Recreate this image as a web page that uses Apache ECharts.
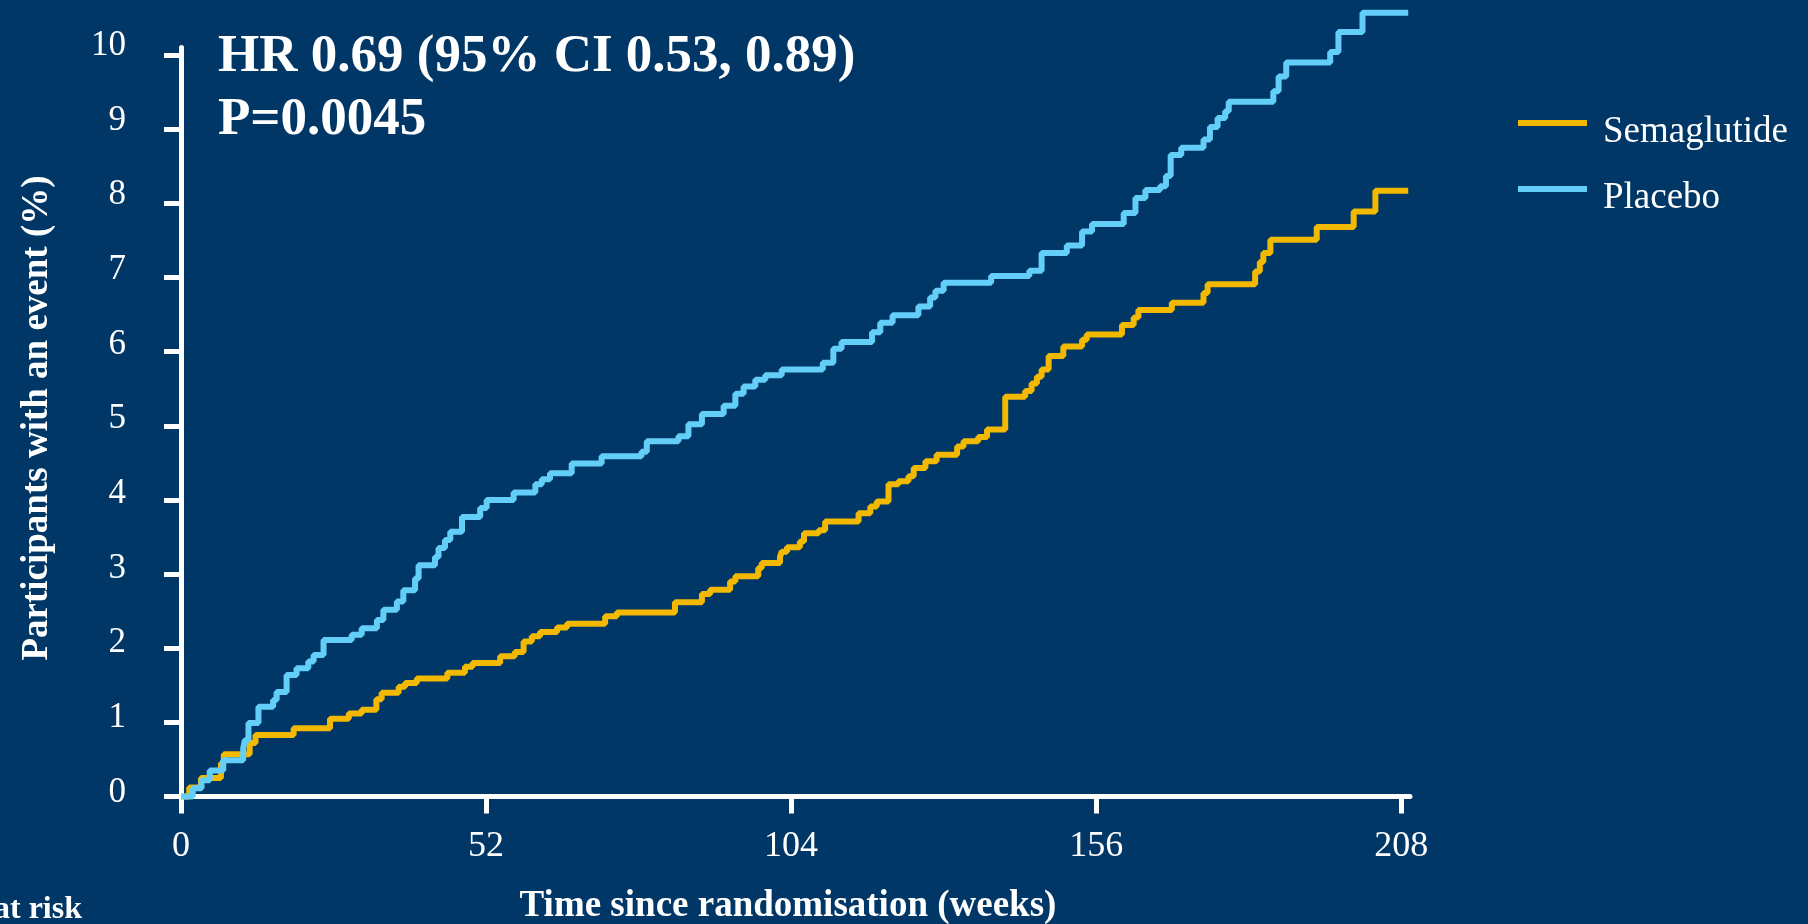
<!DOCTYPE html>
<html>
<head>
<meta charset="utf-8">
<script src="https://cdn.jsdelivr.net/npm/echarts@6/dist/echarts.min.js"></script>
<style>
html,body{margin:0;padding:0;background:#013766;}
#c{width:1808px;height:924px;}
</style>
</head>
<body>
<div id="c"></div>
<script>
const seriesNames = ['Semaglutide', 'Placebo'];
const xTicks = [0, 52, 104, 156, 208];
const yTicks = [0, 1, 2, 3, 4, 5, 6, 7, 8, 9, 10];

const semaWeeks = [0, 1.4, 3.4, 6.8, 7.3, 11.7, 12.7, 19.2, 25.4, 28.6, 30.8, 33.3, 34.2, 37.1, 38.2, 40.2, 45.4, 48.4, 49.7,
  54.4, 56.9, 58.4, 59.8, 61.2, 64.1, 65.8, 72.3, 74.3, 84.2, 88.8, 90.2, 93.6, 94.5, 98.4, 99.0, 102.1, 102.4, 103.3, 105.5,
  106.2, 108.7, 109.8, 115.5, 117.5, 118.6, 120.6, 122.3, 124.0, 124.9, 126.9, 128.8, 132.3, 133.4, 135.9, 137.4, 140.5,
  143.9, 145.0, 145.9, 146.7, 147.9, 150.4, 153.6, 154.4, 160.4, 162.4, 163.2, 168.9, 174.3, 175.0, 183.1, 183.9, 184.5,
  185.7, 193.6, 199.9, 203.6, 209.2];
const semaValues = [0, 0.12, 0.25, 0.45, 0.57, 0.72, 0.83, 0.92, 1.05, 1.12, 1.17, 1.31, 1.40, 1.48, 1.53, 1.59, 1.67, 1.75, 1.80,
  1.89, 1.95, 2.09, 2.16, 2.22, 2.28, 2.33, 2.43, 2.48, 2.62, 2.73, 2.79, 2.90, 2.97, 3.08, 3.15, 3.23, 3.30, 3.36, 3.44,
  3.55, 3.59, 3.71, 3.82, 3.91, 3.98, 4.21, 4.25, 4.32, 4.43, 4.52, 4.61, 4.72, 4.79, 4.85, 4.95, 5.39,
  5.47, 5.57, 5.66, 5.76, 5.94, 6.07, 6.16, 6.23, 6.36, 6.46, 6.56, 6.66, 6.79, 6.91, 7.08, 7.21, 7.33,
  7.51, 7.68, 7.89, 8.17, 8.17];

const placeboWeeks = [0, 2.0, 3.5, 4.9, 7.2, 10.6, 10.9, 11.5, 13.2, 15.7, 16.3, 18.0, 19.7, 21.7, 22.6, 24.3, 29.1, 30.8,
  33.4, 34.5, 36.8, 37.9, 39.9, 40.5, 43.3, 43.9, 45.0, 45.9, 47.9, 51.0, 52.1, 56.7, 60.4, 61.5, 62.9, 66.6, 71.7, 78.5,
  79.4, 84.8, 86.5, 88.8, 92.5, 94.5, 95.9, 97.9, 99.6, 102.4, 109.4, 111.2, 112.6, 117.8, 119.2, 121.3, 125.7, 127.7,
  128.6, 130.0, 138.1, 144.6, 146.7, 151.0, 153.6, 155.3, 160.7, 162.7, 164.4, 166.9, 167.9, 168.7, 170.5, 174.3, 175.4,
  176.7, 178.0, 178.6, 186.2, 187.1, 188.4, 195.9, 197.3, 201.4, 209.2];
const placeboValues = [0, 0.11, 0.22, 0.35, 0.49, 0.65, 0.76, 0.99, 1.21, 1.30, 1.41, 1.64, 1.73, 1.82, 1.91, 2.11, 2.18, 2.27,
  2.38, 2.52, 2.63, 2.78, 2.94, 3.12, 3.23, 3.35, 3.46, 3.57, 3.77, 3.89, 4.00, 4.10, 4.21, 4.28, 4.36, 4.49, 4.59, 4.65,
  4.79, 4.86, 5.02, 5.16, 5.27, 5.43, 5.53, 5.62, 5.68, 5.76, 5.85, 6.04, 6.13, 6.26, 6.39, 6.49, 6.61, 6.73,
  6.82, 6.93, 7.02, 7.09, 7.33, 7.43, 7.62, 7.72, 7.87, 8.07, 8.18, 8.23, 8.37, 8.65, 8.75, 8.86, 9.03,
  9.15, 9.24, 9.37, 9.51, 9.71, 9.90, 10.04, 10.31, 10.57, 10.57];

const titleLine1 = 'HR 0.69 (95% CI 0.53, 0.89)';
const titleLine2 = 'P=0.0045';
const yAxisTitle = 'Participants with an event (%)';
const xAxisTitle = 'Time since randomisation (weeks)';
const riskLabel = 'at risk';

const SERIF = '"Liberation Serif", "Times New Roman", serif';
const BG = '#013766';
const GOLD = '#F2B900';
const SKY = '#63CEF7';

function pairs(xs, ys) { return xs.map((x, i) => [x, ys[i]]); }

const chart = echarts.init(document.getElementById('c'), null, { renderer: 'canvas' });
chart.setOption({
  backgroundColor: BG,
  animation: false,
  grid: [
    { left: 181, right: 398, top: 47.6, bottom: 127.5, containLabel: false },
    // label grid: the tick labels in the original sit slightly above their ticks
    { left: 181, right: 398, top: 46, bottom: 131.5, containLabel: false }
  ],
  legend: {
    orient: 'vertical',
    left: 1518,
    top: 112,
    padding: 0,
    itemGap: 26,
    itemWidth: 69,
    itemHeight: 24,
    icon: 'path://M0,0L69,0L69,6L0,6Z M0,23.95L0.05,23.95L0.05,24L0,24Z',
    data: seriesNames,
    textStyle: {
      color: '#ffffff',
      fontFamily: SERIF,
      fontSize: 37,
      lineHeight: 40,
      padding: [0, 0, 0, 11]
    }
  },
  xAxis: [
    {
      type: 'value', gridIndex: 0,
      min: 0,
      max: 209.5,
      splitLine: { show: false },
      axisLine: { show: true, onZero: false, lineStyle: { color: '#ffffff', width: 5 } },
      axisTick: { show: true, length: 17, customValues: xTicks, lineStyle: { color: '#ffffff', width: 5 } },
      axisLabel: { customValues: xTicks, color: '#ffffff', fontFamily: SERIF, fontSize: 36, margin: 32 }
    },
    {
      type: 'value', gridIndex: 1, min: 0, max: 209.5, show: false
    }
  ],
  yAxis: [
    {
      type: 'value', gridIndex: 0,
      min: 0,
      max: 10.1,
      splitLine: { show: false },
      axisLine: { show: true, onZero: false, lineStyle: { color: '#ffffff', width: 5 } },
      axisTick: { show: true, length: 17, customValues: yTicks, lineStyle: { color: '#ffffff', width: 5 } },
      axisLabel: { show: false }
    },
    {
      type: 'value', gridIndex: 1,
      min: 0,
      max: 10,
      splitLine: { show: false },
      axisLine: { show: false },
      axisTick: { show: false },
      axisLabel: { customValues: yTicks, color: '#ffffff', fontFamily: SERIF, fontSize: 35, margin: 55, verticalAlign: 'middle' }
    }
  ],
  series: [
    {
      name: seriesNames[0], type: 'line', step: 'end', showSymbol: false, clip: false,
      xAxisIndex: 0, yAxisIndex: 0,
      color: GOLD, lineStyle: { color: GOLD, width: 6 },
      data: pairs(semaWeeks, semaValues)
    },
    {
      name: seriesNames[1], type: 'line', step: 'end', showSymbol: false, clip: false,
      xAxisIndex: 0, yAxisIndex: 0,
      color: SKY, lineStyle: { color: SKY, width: 6 },
      data: pairs(placeboWeeks, placeboValues)
    }
  ],
  graphic: [
    { type: 'text', x: 218, y: 57, style: { text: titleLine1, font: 'bold 53px ' + SERIF, fill: '#ffffff', align: 'left', verticalAlign: 'middle' } },
    { type: 'text', x: 218, y: 120, style: { text: titleLine2, font: 'bold 53px ' + SERIF, fill: '#ffffff', align: 'left', verticalAlign: 'middle' } },
    { type: 'text', x: 37, y: 418, rotation: Math.PI / 2, style: { text: yAxisTitle, font: 'bold 37px ' + SERIF, fill: '#ffffff', align: 'center', verticalAlign: 'middle' } },
    { type: 'text', x: 788, y: 906, style: { text: xAxisTitle, font: 'bold 37px ' + SERIF, fill: '#ffffff', align: 'center', verticalAlign: 'middle' } },
    { type: 'text', x: 82, y: 910, style: { text: riskLabel, font: 'bold 32px ' + SERIF, fill: '#ffffff', align: 'right', verticalAlign: 'middle' } }
  ]
});
</script>
</body>
</html>
